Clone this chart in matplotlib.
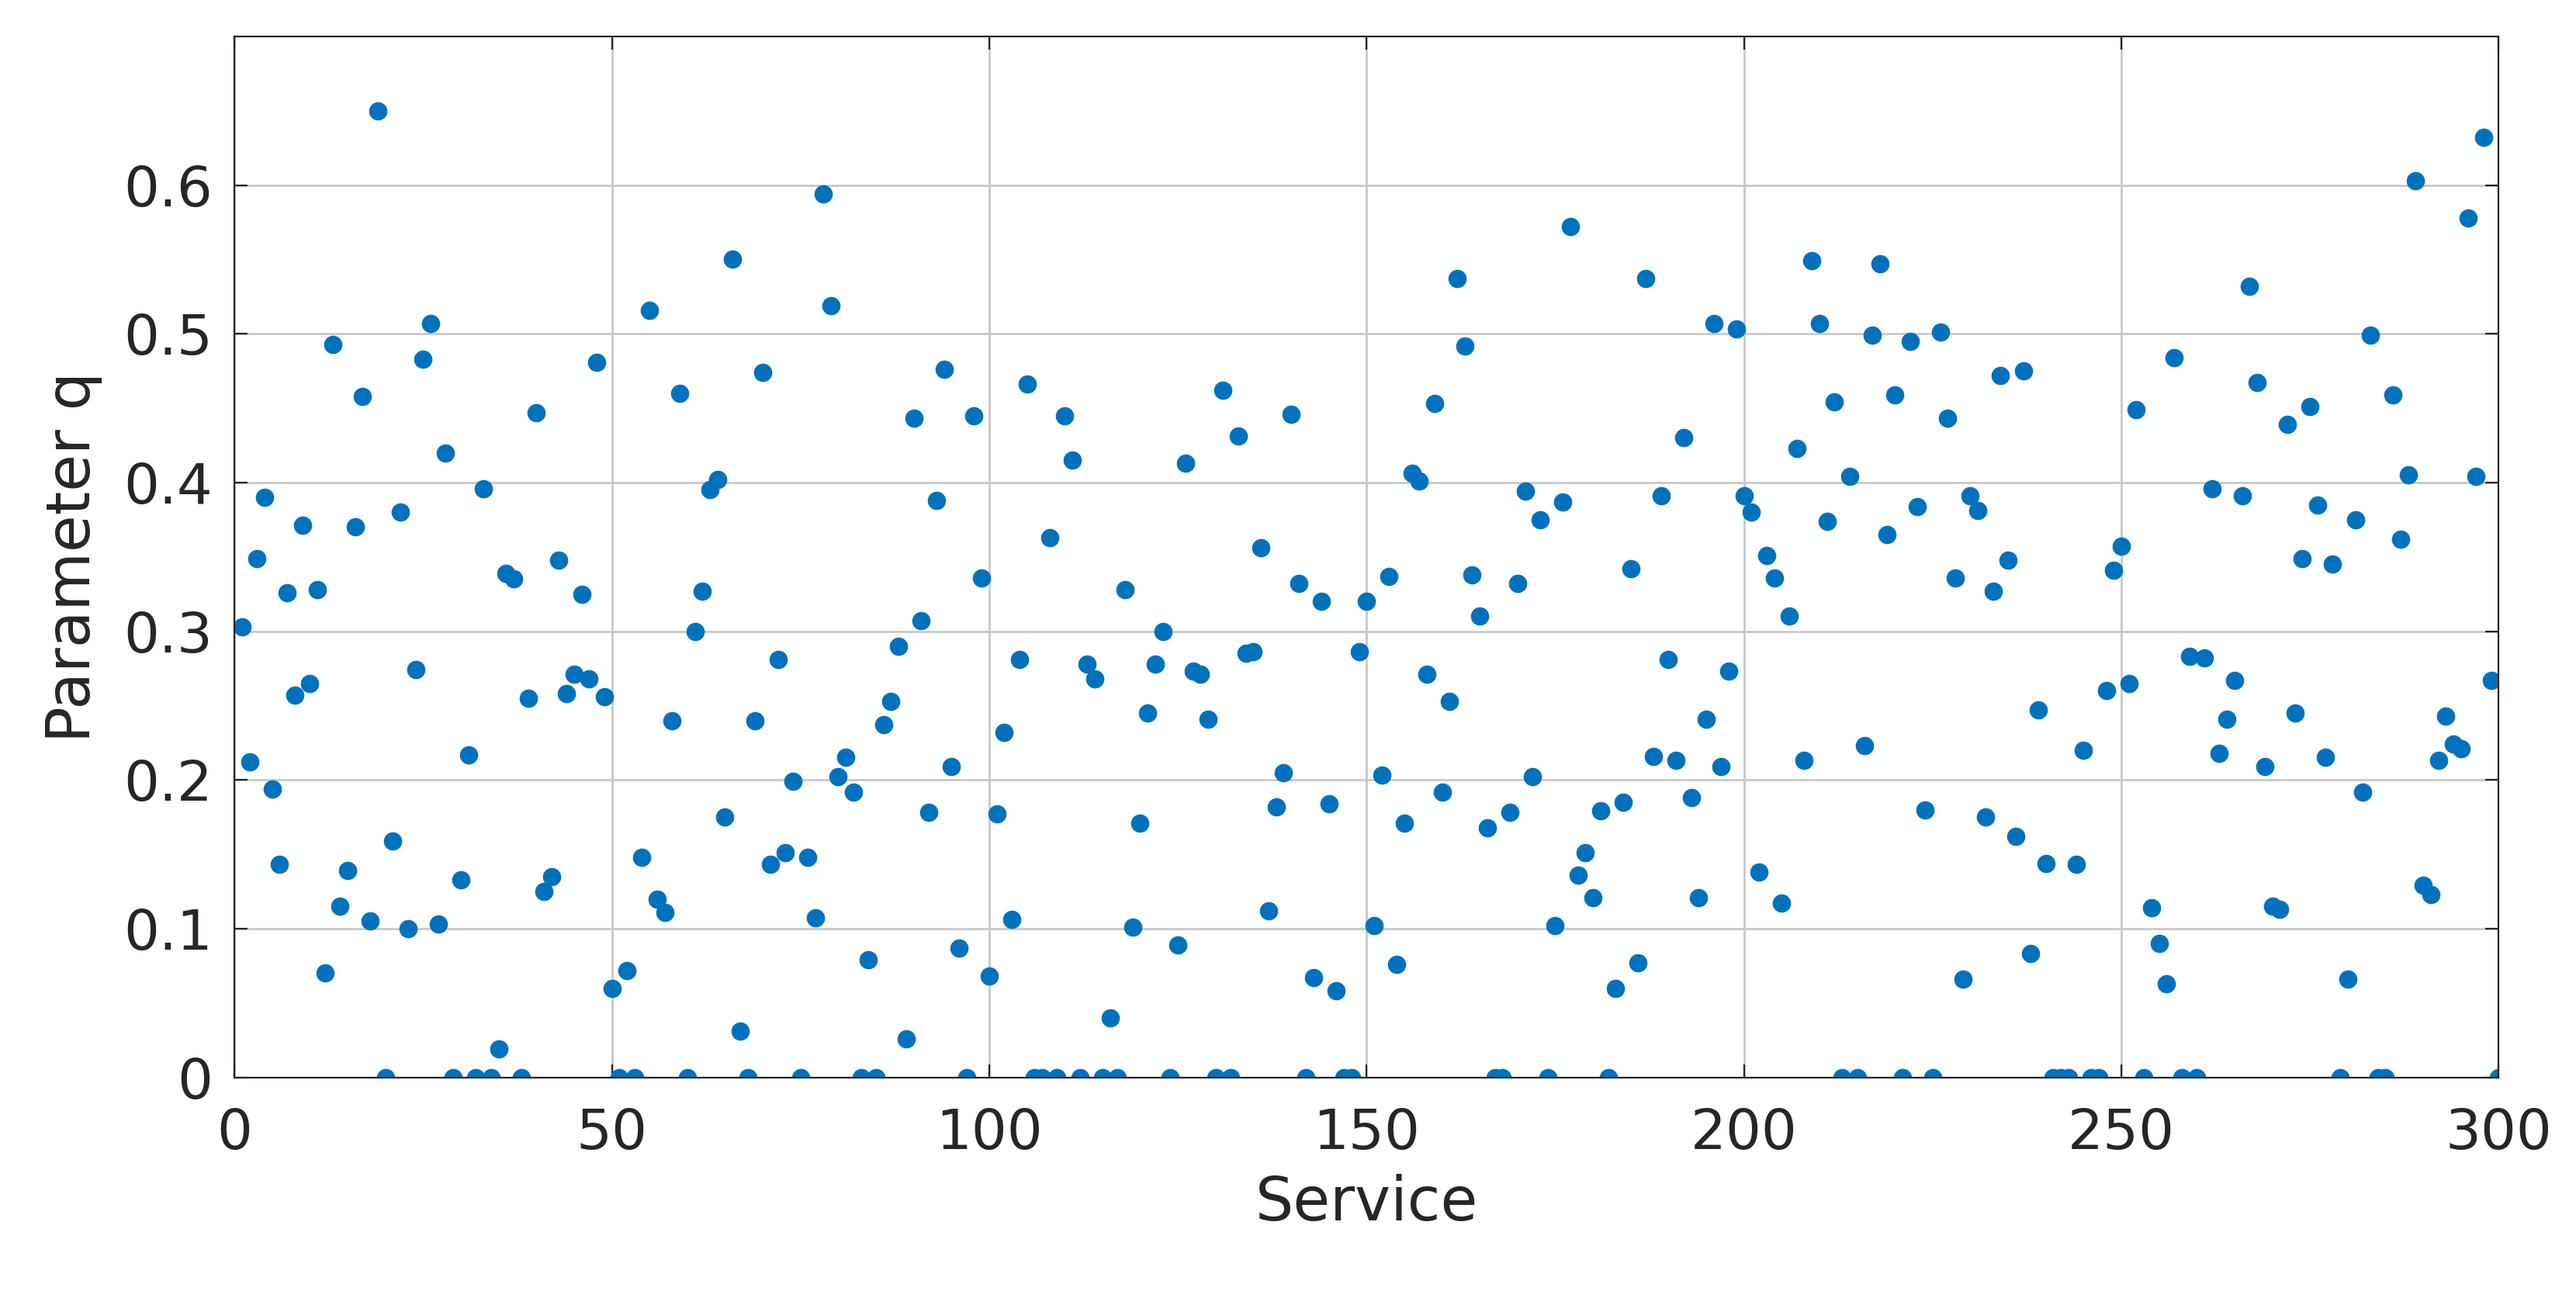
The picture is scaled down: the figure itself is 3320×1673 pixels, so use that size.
import matplotlib
matplotlib.use("Agg")
import matplotlib.pyplot as plt
import numpy as np

q_values = [
0.303,0.212,0.349,0.390,0.194,0.143,0.326,0.257,0.371,0.265,
0.328,0.070,0.493,0.115,0.139,0.370,0.458,0.105,0.650,0,
0.159,0.380,0.100,0.274,0.483,0.507,0.103,0.420,0,0.133,
0.217,0,0.396,0,0.019,0.339,0.335,0,0.255,0.447,
0.125,0.135,0.348,0.258,0.271,0.325,0.268,0.481,0.256,0.060,
0,0.072,0,0.148,0.516,0.120,0.111,0.240,0.460,0,
0.300,0.327,0.395,0.402,0.175,0.550,0.031,0,0.240,0.474,
0.143,0.281,0.151,0.199,0,0.148,0.107,0.594,0.519,0.202,
0.215,0.192,0,0.079,0,0.237,0.253,0.290,0.026,0.443,
0.307,0.178,0.388,0.476,0.209,0.087,0,0.445,0.336,0.068,
0.177,0.232,0.106,0.281,0.466,0,0,0.363,0,0.445,
0.415,0,0.278,0.268,0,0.040,0,0.328,0.101,0.171,
0.245,0.278,0.300,0,0.089,0.413,0.273,0.271,0.241,0,
0.462,0,0.431,0.285,0.286,0.356,0.112,0.182,0.205,0.446,
0.332,0,0.067,0.320,0.184,0.058,0,0,0.286,0.320,
0.102,0.203,0.337,0.076,0.171,0.406,0.401,0.271,0.453,0.192,
0.253,0.537,0.492,0.338,0.310,0.168,0,0,0.178,0.332,
0.394,0.202,0.375,0,0.102,0.387,0.572,0.136,0.151,0.121,
0.179,0,0.060,0.185,0.342,0.077,0.537,0.216,0.391,0.281,
0.213,0.430,0.188,0.121,0.241,0.507,0.209,0.273,0.503,0.391,
0.380,0.138,0.351,0.336,0.117,0.310,0.423,0.213,0.549,0.507,
0.374,0.454,0,0.404,0,0.223,0.499,0.547,0.365,0.459,
0,0.495,0.384,0.180,0,0.501,0.443,0.336,0.066,0.391,
0.381,0.175,0.327,0.472,0.348,0.162,0.475,0.083,0.247,0.144,
0,0,0,0.143,0.220,0,0,0.260,0.341,0.357,
0.265,0.449,0,0.114,0.090,0.063,0.484,0,0.283,0,
0.282,0.396,0.218,0.241,0.267,0.391,0.532,0.467,0.209,0.115,
0.113,0.439,0.245,0.349,0.451,0.385,0.215,0.345,0,0.066,
0.375,0.192,0.499,0,0,0.459,0.362,0.405,0.603,0.129,
0.123,0.213,0.243,0.224,0.221,0.578,0.404,0.632,0.267,0,
]
services = np.arange(1, len(q_values) + 1)

fig = plt.figure(figsize=(16.6, 8.365), dpi=200)
ax = fig.add_axes([0.091, 0.17, 0.879, 0.802])
ax.plot(services, q_values, 'o', color='#0072BD', markersize=7.5, linestyle='none')
ax.set_xlim(0, 300)
ax.set_ylim(0, 0.7)
ax.set_xticks([0, 50, 100, 150, 200, 250, 300])
ax.set_yticks([0, 0.1, 0.2, 0.3, 0.4, 0.5, 0.6])
ax.set_yticklabels(['0', '0.1', '0.2', '0.3', '0.4', '0.5', '0.6'])
ax.grid(True, color='#c8c8c8', linewidth=1.0)
ax.set_axisbelow(True)
ax.tick_params(labelsize=26, direction='in', length=6, top=True, right=True, colors='#262626')
ax.tick_params(axis='x', pad=14)
ax.tick_params(axis='y', pad=10)
for s in ax.spines.values():
    s.set_color('#262626')
ax.set_xlabel('Service', fontsize=28, color='#262626', labelpad=6)
ax.set_ylabel('Parameter q', fontsize=28, color='#262626', labelpad=10)
fig.savefig('out.png', dpi=200)
